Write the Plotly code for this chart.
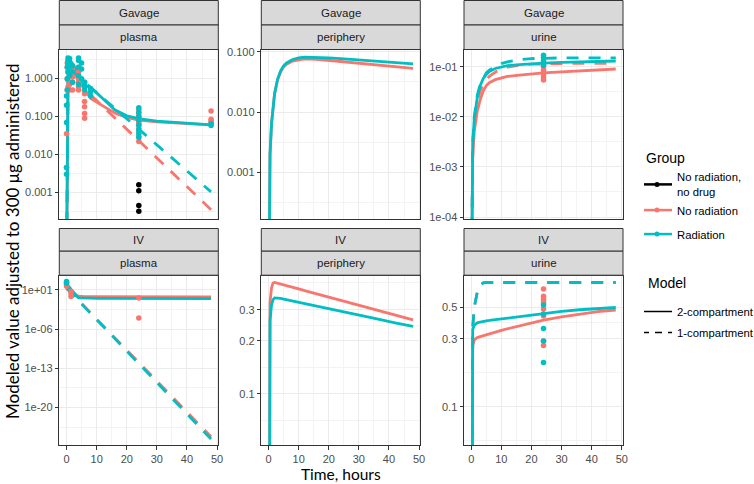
import plotly.graph_objects as go

# ---------------- data ----------------
RED, CYAN, BLACK = "#F8766D", "#00BFC4", "#000000"
GROUPS = ["No radiation,<br>no drug", "No radiation", "Radiation"]
GROUP_KEYS = ["g1", "g1", "g2"]
MODELS = ["2-compartment", "1-compartment"]
ROUTES = ["Gavage", "IV"]
COMPARTMENTS = ["plasma", "periphery", "urine"]
X_TICKS = [0, 10, 20, 30, 40, 50]

T_GRID = [0, 0.25, 0.5, 1, 1.5, 2, 3, 4, 5, 6, 8, 10, 12, 16, 20, 24, 30, 36, 42, 48]

# Gavage / plasma model curves
GP_NR_2C = [1e-5, 0.04, 0.6, 1.5, 1.8, 1.6, 1.2, 0.9, 0.7, 0.5, 0.3, 0.24, 0.19, 0.125, 0.095, 0.08, 0.072, 0.068, 0.064, 0.06]
GP_R_2C = [1e-5, 0.2, 1.2, 2.5, 2.8, 2.5, 1.8, 1.3, 1.0, 0.7, 0.55, 0.42, 0.3, 0.15, 0.105, 0.088, 0.076, 0.07, 0.065, 0.06]
GP_NR_1C = [1e-5, 0.1, 0.5, 0.9, 1.1, 1.15, 1.05, 0.9, 0.72, 0.6, 0.375, 0.265, 0.187, 0.093, 0.047, 0.023, 0.0081, 0.0029, 0.001, 0.00035]
GP_R_1C = [1e-5, 0.3, 0.8, 1.4, 1.6, 1.6, 1.4, 1.15, 0.95, 0.8, 0.59, 0.43, 0.31, 0.167, 0.088, 0.047, 0.018, 0.007, 0.0027, 0.00103]

# Gavage / periphery
GPe_NR_2C = [1e-6, 0.0004, 0.002, 0.0065, 0.013, 0.02, 0.034, 0.046, 0.056, 0.062, 0.07, 0.074, 0.076, 0.075, 0.072, 0.069, 0.065, 0.061, 0.057, 0.053]
GPe_R_2C = [1e-6, 0.0004, 0.002, 0.0065, 0.013, 0.02, 0.035, 0.048, 0.058, 0.065, 0.074, 0.079, 0.081, 0.081, 0.079, 0.077, 0.073, 0.069, 0.066, 0.063]

# Gavage / urine
GU_NR_2C = [1e-6, 0.0002, 0.0015, 0.005, 0.009, 0.013, 0.022, 0.033, 0.042, 0.048, 0.055, 0.06, 0.064, 0.068, 0.072, 0.075, 0.079, 0.083, 0.087, 0.09]
GU_R_2C = [1e-6, 0.0003, 0.003, 0.009, 0.016, 0.024, 0.042, 0.058, 0.07, 0.08, 0.092, 0.1, 0.105, 0.11, 0.115, 0.118, 0.122, 0.125, 0.128, 0.13]
GU_NR_1C = [1e-6, 0.0003, 0.0025, 0.008, 0.014, 0.02, 0.033, 0.045, 0.056, 0.064, 0.078, 0.09, 0.098, 0.107, 0.112, 0.114, 0.116, 0.117, 0.117, 0.117]
GU_R_1C = [1e-6, 0.0003, 0.003, 0.01, 0.018, 0.027, 0.045, 0.06, 0.075, 0.085, 0.1, 0.115, 0.125, 0.138, 0.145, 0.148, 0.15, 0.15, 0.15, 0.15]

# IV / plasma
IP_NR_2C = [100, 70, 45, 20, 9, 4.5, 1.5, 0.7, 0.62, 0.6, 0.6, 0.59, 0.59, 0.58, 0.58, 0.57, 0.57, 0.56, 0.56, 0.55]
IP_R_2C = [120, 80, 50, 25, 10, 5, 1.0, 0.35, 0.32, 0.31, 0.31, 0.3, 0.3, 0.3, 0.29, 0.29, 0.28, 0.28, 0.27, 0.27]
IP_NR_1C = [20, 14.5, 10.5, 5.6, 2.9, 1.57, 0.44, 0.123, 0.035, 0.0097, 7.6e-4, 6.0e-5, 4.7e-6, 2.9e-8, 1.8e-10, 1.1e-12, 5.5e-16, 2.7e-19, 1.3e-22, 6.3e-26]
IP_R_1C = [18.6, 13.5, 9.8, 5.1, 2.7, 1.4, 0.39, 0.107, 0.0295, 8.1e-3, 6.2e-4, 4.7e-5, 3.5e-6, 2.0e-8, 1.2e-10, 6.8e-13, 3.0e-16, 1.3e-19, 5.6e-23, 2.5e-26]

# IV / periphery
IPe_NR_2C = [1e-4, 0.2, 0.33, 0.4, 0.425, 0.428, 0.424, 0.419, 0.415, 0.41, 0.402, 0.394, 0.385, 0.369, 0.354, 0.339, 0.318, 0.299, 0.281, 0.263]
IPe_R_2C = [1e-4, 0.15, 0.26, 0.32, 0.342, 0.35, 0.3505, 0.3476, 0.3448, 0.342, 0.336, 0.331, 0.325, 0.315, 0.304, 0.294, 0.28, 0.266, 0.253, 0.241]

# IV / urine
IU_NR_2C = [1e-4, 0.22, 0.27, 0.295, 0.303, 0.307, 0.312, 0.317, 0.322, 0.327, 0.336, 0.345, 0.354, 0.372, 0.39, 0.407, 0.43, 0.45, 0.467, 0.48]
IU_R_2C = [1e-4, 0.3, 0.35, 0.375, 0.385, 0.39, 0.395, 0.4, 0.403, 0.405, 0.41, 0.415, 0.42, 0.432, 0.443, 0.455, 0.47, 0.482, 0.492, 0.5]
IU_NR_1C = [1e-4, 0.2, 0.36, 0.5, 0.58, 0.64, 0.72, 0.745, 0.75, 0.75, 0.75, 0.75, 0.75, 0.75, 0.75, 0.75, 0.75, 0.75, 0.75, 0.75]
IU_R_1C = [1e-4, 0.2, 0.36, 0.5, 0.58, 0.64, 0.72, 0.745, 0.75, 0.75, 0.75, 0.75, 0.75, 0.75, 0.75, 0.75, 0.75, 0.75, 0.75, 0.75]

# Observed points
GP_NR_PT_T = [0, 0, 0.25, 0.25, 0.25, 0.25, 0.5, 0.5, 0.5, 0.5, 0.5, 1, 1, 1, 1, 1, 2, 2, 2, 2, 2,
              4, 4, 4, 4, 4, 4, 6, 6, 6, 6, 6, 6, 6, 24, 24, 24, 24, 24, 24, 24, 24, 24, 24, 48, 48, 48, 48]
GP_NR_PT_Y = [0.035, 0.0045, 0.5, 1.0, 2.0, 2.6, 0.6, 0.9, 1.5, 2.2, 2.8, 0.5, 0.7, 1.2, 1.8, 2.4, 0.5, 0.8, 1.1, 1.6, 2.0,
              0.5, 0.6, 0.8, 1.0, 1.5, 2.0, 0.09, 0.12, 0.18, 0.25, 0.4, 0.6, 0.8,
              0.15, 0.12, 0.1, 0.085, 0.07, 0.06, 0.05, 0.04, 0.03, 0.022, 0.14, 0.085, 0.075, 0.068]
GP_R_PT_T = [0, 0, 0, 0, 0, 0.25, 0.25, 0.25, 0.5, 0.5, 0.5, 0.5, 1, 1, 1, 1, 2, 2, 2, 4, 4, 4, 4, 4, 5, 5, 5,
             6, 6, 6, 8, 8, 8, 24, 24, 24, 24, 24, 24, 24, 24, 48, 48]
GP_R_PT_Y = [0.003, 0.0045, 0.07, 0.2, 0.35, 0.5, 1.0, 2.0, 1.5, 2.5, 3.5, 3.0, 1.2, 2.0, 2.8, 3.4, 0.8, 1.5, 2.2,
             0.7, 1.2, 2.0, 3.0, 3.5, 1.0, 1.8, 2.6, 0.5, 0.65, 0.8, 0.35, 0.45, 0.55,
             0.17, 0.13, 0.1, 0.08, 0.06, 0.045, 0.035, 0.028, 0.058, 0.065]
GP_CTRL_PT_T = [24, 24, 24, 24]
GP_CTRL_PT_Y = [0.0016, 0.0011, 0.00045, 0.00032]

GU_NR_PT_T = [24, 24, 24, 24, 24, 24]
GU_NR_PT_Y = [0.117, 0.1, 0.085, 0.07, 0.06, 0.054]
GU_R_PT_T = [24, 24, 24, 24, 24]
GU_R_PT_Y = [0.17, 0.15, 0.13, 0.12, 0.107]

IP_NR_PT_T = [0, 0, 0, 1.5, 1.5, 1.5, 24, 24]
IP_NR_PT_Y = [40, 100, 250, 5, 2, 0.6, 0.35, 9e-5]
IP_R_PT_T = [0, 0]
IP_R_PT_Y = [300, 150]

IU_NR_PT_T = [24, 24, 24, 24, 24, 24, 24, 24]
IU_NR_PT_Y = [0.675, 0.6, 0.57, 0.54, 0.487, 0.435, 0.29, 0.27]
IU_R_PT_T = [24, 24, 24, 24, 24]
IU_R_PT_Y = [0.52, 0.45, 0.355, 0.29, 0.205]

# ---------------- panel table ----------------
PANELS = [
    dict(row=0, col=0, lines=[(GP_NR_2C, RED, "solid"), (GP_NR_1C, RED, "dash"), (GP_R_2C, CYAN, "solid"), (GP_R_1C, CYAN, "dash")],
         pts=[(GP_CTRL_PT_T, GP_CTRL_PT_Y, BLACK), (GP_NR_PT_T, GP_NR_PT_Y, RED), (GP_R_PT_T, GP_R_PT_Y, CYAN)],
         yr=[-3.71, 0.755], tv=[0.001, 0.01, 0.1, 1], tt=["0.001", "0.010", "0.100", "1.000"],
         mv=[10 ** -3.5, 10 ** -2.5, 10 ** -1.5, 10 ** -0.5, 10 ** 0.5]),
    dict(row=0, col=1, lines=[(GPe_NR_2C, RED, "solid"), (GPe_R_2C, CYAN, "solid")], pts=[],
         yr=[-3.775, -0.972], tv=[0.001, 0.01, 0.1], tt=["0.001", "0.010", "0.100"],
         mv=[10 ** -3.5, 10 ** -2.5, 10 ** -1.5]),
    dict(row=0, col=2, lines=[(GU_NR_2C, RED, "solid"), (GU_NR_1C, RED, "dash"), (GU_R_2C, CYAN, "solid"), (GU_R_1C, CYAN, "dash")],
         pts=[(GU_NR_PT_T, GU_NR_PT_Y, RED), (GU_R_PT_T, GU_R_PT_Y, CYAN)],
         yr=[-4.046, -0.667], tv=[1e-4, 1e-3, 1e-2, 1e-1], tt=["1e-04", "1e-03", "1e-02", "1e-01"],
         mv=[10 ** -3.5, 10 ** -2.5, 10 ** -1.5]),
    dict(row=1, col=0, lines=[(IP_NR_2C, RED, "solid"), (IP_NR_1C, RED, "dash"), (IP_R_2C, CYAN, "solid"), (IP_R_1C, CYAN, "dash")],
         pts=[(IP_NR_PT_T, IP_NR_PT_Y, RED), (IP_R_PT_T, IP_R_PT_Y, CYAN)],
         yr=[-26.66, 3.5], tv=[1e-20, 1e-13, 1e-6, 1e1], tt=["1e-20", "1e-13", "1e-06", "1e+01"],
         mv=[10 ** -23.5, 10 ** -16.5, 10 ** -9.5, 10 ** -2.5]),
    dict(row=1, col=1, lines=[(IPe_NR_2C, RED, "solid"), (IPe_R_2C, CYAN, "solid")], pts=[],
         yr=[-1.29, -0.33], tv=[0.1, 0.2, 0.3], tt=["0.1", "0.2", "0.3"],
         mv=[10 ** -1.15, 10 ** -0.85, 10 ** -0.61, 10 ** -0.37]),
    dict(row=1, col=2, lines=[(IU_NR_2C, RED, "solid"), (IU_NR_1C, RED, "dash"), (IU_R_2C, CYAN, "solid"), (IU_R_1C, CYAN, "dash")],
         pts=[(IU_NR_PT_T, IU_NR_PT_Y, RED), (IU_R_PT_T, IU_R_PT_Y, CYAN)],
         yr=[-1.27, -0.077], tv=[0.1, 0.3, 0.5], tt=["0.1", "0.3", "0.5"],
         mv=[10 ** -1.24, 10 ** -0.76, 10 ** -0.41]),
]

# ---------------- layout geometry (px) ----------------
W, H = 754, 484
COL_X = [(59.3, 218.3), (261.3, 420.3), (464.0, 623.0)]
ROW_Y = [(50.0, 219.3), (275.7, 445.0)]
STRIPS = [[(0.5, 25.0), (25.0, 49.5)], [(228.5, 251.2), (251.2, 275.2)]]

TICK_FONT = dict(family="Liberation Sans, Arial", size=11, color="#4D4D4D")
GRID = "#EBEBEB"
MINOR = "#F3F3F3"
FRAME = "#333333"

fig = go.Figure()
layout = dict(width=W, height=H, margin=dict(l=0, r=0, t=0, b=0, autoexpand=False),
              plot_bgcolor="white", paper_bgcolor="white", showlegend=True)
shapes, annos = [], []

for k, p in enumerate(PANELS, start=1):
    xa = "x" if k == 1 else f"x{k}"
    ya = "y" if k == 1 else f"y{k}"
    x0, x1 = COL_X[p["col"]]
    y0, y1 = ROW_Y[p["row"]]
    bottom = p["row"] == 1
    layout["xaxis" if k == 1 else f"xaxis{k}"] = dict(
        domain=[x0 / W, x1 / W], anchor=ya, range=[-2.4, 50.4], automargin=False,
        tickmode="array", tickvals=X_TICKS, ticktext=[str(v) for v in X_TICKS],
        showticklabels=bottom, ticks="outside" if bottom else "", ticklen=3.5, tickcolor=FRAME,
        tickfont=TICK_FONT, showgrid=True, gridcolor=GRID, gridwidth=1, zeroline=False,
        minor=dict(tickmode="array", tickvals=[5, 15, 25, 35, 45], showgrid=True, gridcolor=MINOR, gridwidth=0.6, ticks=""),
        showline=True, mirror=True, linecolor=FRAME, linewidth=1)
    layout["yaxis" if k == 1 else f"yaxis{k}"] = dict(
        domain=[1 - y1 / H, 1 - y0 / H], anchor=xa, type="log", range=p["yr"], automargin=False,
        tickmode="array", tickvals=p["tv"], ticktext=p["tt"],
        ticks="outside", ticklen=3.5, tickcolor=FRAME, tickfont=TICK_FONT,
        showgrid=True, gridcolor=GRID, gridwidth=1, zeroline=False,
        minor=dict(tickmode="array", tickvals=p["mv"], showgrid=True, gridcolor=MINOR, gridwidth=0.6, ticks=""),
        showline=True, mirror=True, linecolor=FRAME, linewidth=1)

    for vals, color, dash in p["lines"]:
        fig.add_trace(go.Scatter(x=T_GRID, y=vals, mode="lines", xaxis=xa, yaxis=ya,
                                 line=dict(color=color, width=2.8, dash="12px,10px" if dash == "dash" else "solid"),
                                 showlegend=False, hoverinfo="skip"))
    for tt, yy, color in p["pts"]:
        fig.add_trace(go.Scatter(x=tt, y=yy, mode="markers", xaxis=xa, yaxis=ya,
                                 marker=dict(color=color, size=5.5), showlegend=False, hoverinfo="skip"))

    # strips
    labels = [ROUTES[p["row"]], COMPARTMENTS[p["col"]]]
    for (sy0, sy1), lab in zip(STRIPS[p["row"]], labels):
        shapes.append(dict(type="rect", xref="paper", yref="paper", x0=x0 / W, x1=x1 / W,
                           y0=1 - sy1 / H, y1=1 - sy0 / H, fillcolor="#D9D9D9",
                           line=dict(color=FRAME, width=1), layer="above"))
        annos.append(dict(text=lab, xref="paper", yref="paper", x=(x0 + x1) / 2 / W,
                          y=1 - (sy0 + sy1) / 2 / H, showarrow=False, xanchor="center", yanchor="middle",
                          font=dict(family="Liberation Sans, Arial", size=11.5, color="#1A1A1A")))

# legend entries
for name, color, key in zip(GROUPS, [BLACK, RED, CYAN], GROUP_KEYS):
    fig.add_trace(go.Scatter(x=[None], y=[None], mode="lines+markers", name=name, legend="legend",
                             legendgroup=key, line=dict(color=color, width=2.5),
                             marker=dict(color=color, size=5)))
for name, dash in zip(MODELS, ["solid", "7px,6px"]):
    fig.add_trace(go.Scatter(x=[None], y=[None], mode="lines", name=name, legend="legend2",
                             legendgroup=name, line=dict(color=BLACK, width=1.5, dash=dash)))

LEG_FONT = dict(family="Liberation Sans, Arial", size=11.3, color="#000000")
TITLE_FONT = dict(family="Liberation Sans, Arial", size=14, color="#000000")
layout["legend"] = dict(x=644 / W, y=1 - 145 / H, xanchor="left", yanchor="top",
                        title=dict(text="Group", font=TITLE_FONT), traceorder="grouped",
                        font=LEG_FONT, bgcolor="rgba(0,0,0,0)", tracegroupgap=5, indentation=-7)
layout["legend2"] = dict(x=644 / W, y=1 - 297 / H, xanchor="left", yanchor="top",
                         font=LEG_FONT, bgcolor="rgba(0,0,0,0)", tracegroupgap=2, indentation=-7)
# title of the second legend
annos.append(dict(text="Model", xref="paper", yref="paper", x=646 / W, y=1 - 283 / H,
                  showarrow=False, xanchor="left", yanchor="middle", font=TITLE_FONT))

annos.append(dict(text="Modeled value adjusted to 300 μg administered", xref="paper", yref="paper",
                  x=12 / W, y=1 - 242 / H, textangle=-90, showarrow=False, xanchor="center", yanchor="middle",
                  font=dict(family="Lato", size=17, color="#000000")))
annos.append(dict(text="Time, hours", xref="paper", yref="paper", x=341 / W, y=-1 / H,
                  showarrow=False, xanchor="center", yanchor="bottom",
                  font=dict(family="Lato", size=15.5, color="#000000")))

layout["shapes"] = shapes
layout["annotations"] = annos
fig.update_layout(**layout)
fig.write_html("out.html", config={"displayModeBar": False},
               post_script="document.body.style.margin='0';document.body.style.padding='0';")
